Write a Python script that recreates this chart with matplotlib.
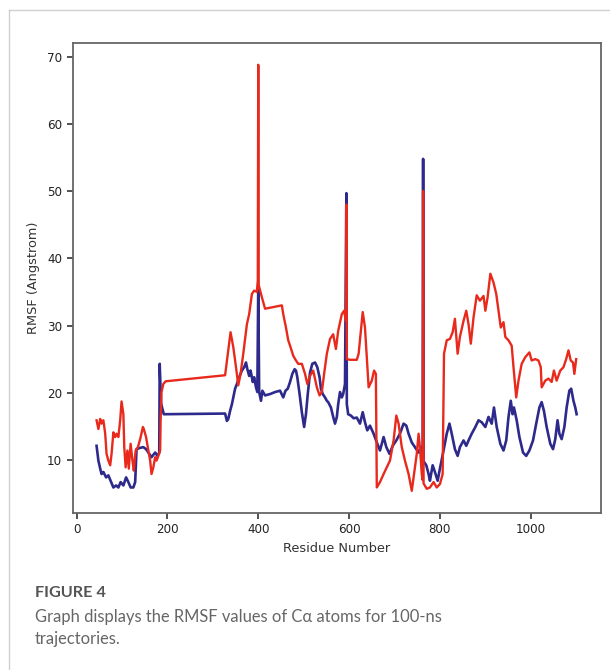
import matplotlib
matplotlib.use("Agg")
import matplotlib.pyplot as plt
from matplotlib.lines import Line2D

# RMSF per residue, red trace
red_residues = [44, 48, 52, 55, 59, 63, 66, 70, 74, 77, 81, 85, 88, 92, 96, 99, 103, 105, 108, 112,
                115, 119, 123, 126, 130, 135, 140, 146, 148, 153, 158, 162, 165, 169, 173, 176, 180, 184,
                185, 187, 191, 196, 327, 339, 345, 351, 356, 361, 367, 375, 380, 386, 391, 397, 399, 400,
                401, 408, 415, 452, 455, 461, 466, 471, 477, 483, 488, 496, 503, 508, 514, 521, 529, 535,
                540, 545, 551, 558, 565, 571, 576, 584, 589, 593, 594, 595, 602, 617, 621, 630, 635, 643,
                650, 655, 659, 661, 668, 676, 683, 690, 698, 704, 709, 716, 723, 731, 738, 743, 749, 753,
                756, 760, 762, 763, 764, 771, 778, 786, 793, 800, 806, 809, 815, 822, 828, 833, 839, 844,
                852, 858, 863, 868, 874, 881, 888, 896, 900, 905, 911, 918, 924, 929, 934, 940, 944, 951,
                958, 962, 968, 973, 980, 988, 997, 1002, 1010, 1017, 1022, 1024, 1032, 1039, 1046, 1051,
                1057, 1065, 1072, 1078, 1083, 1088, 1093, 1096, 1100]
red_rmsf = [15.9, 14.6, 16.1, 15.4, 15.9, 13.9, 10.9, 9.9, 9.2, 10.9, 14.1, 13.4, 13.9, 13.4, 15.9, 18.7,
            16.8, 11.9, 8.9, 11.4, 8.7, 12.4, 9.9, 8.4, 11.4, 11.9, 13.1, 14.9, 14.6, 13.4, 11.4, 9.9, 7.9,
            8.9, 10.4, 9.9, 10.6, 11.4, 15.9, 20.1, 21.3, 21.7, 22.6, 29.0, 26.8, 23.8, 21.1, 22.8, 25.8,
            30.2, 31.7, 34.7, 35.2, 35.0, 36.7, 68.8, 36.0, 34.2, 32.5, 33.0, 31.7, 29.7, 27.8, 26.8, 25.5,
            24.8, 24.3, 24.3, 22.8, 21.3, 22.5, 23.3, 20.8, 19.6, 20.1, 22.8, 25.8, 28.0, 28.7, 26.5, 29.2,
            31.7, 32.2, 30.7, 48.0, 25.0, 24.9, 24.9, 25.8, 32.0, 29.7, 20.8, 21.8, 23.3, 22.8, 5.9, 6.7,
            7.9, 8.9, 9.9, 12.9, 16.6, 15.4, 11.9, 9.9, 7.9, 5.4, 7.9, 10.9, 13.9, 11.9, 7.9, 7.0, 50.0,
            6.5, 5.7, 5.9, 6.7, 5.9, 6.4, 7.9, 25.8, 27.8, 28.0, 29.0, 31.0, 25.8, 28.3, 30.7, 32.2, 30.2,
            27.3, 31.2, 34.5, 33.7, 34.4, 32.2, 34.2, 37.7, 36.4, 34.7, 32.2, 29.7, 30.5, 28.3, 27.8, 27.0,
            23.8, 19.3, 21.8, 24.3, 25.3, 26.0, 24.8, 25.0, 24.8, 23.8, 20.8, 21.8, 22.1, 21.6, 23.3, 21.8,
            23.3, 23.8, 25.0, 26.3, 24.8, 24.5, 22.8, 25.0]

# RMSF per residue, blue trace
blue_residues = [44, 48, 52, 55, 59, 65, 70, 75, 81, 87, 92, 97, 103, 109, 114, 119, 125, 129, 132, 140,
                 147, 153, 158, 165, 173, 178, 182, 183, 186, 192, 327, 331, 334, 338, 342, 345, 349, 353,
                 358, 364, 369, 373, 376, 380, 383, 388, 391, 395, 398, 400, 402, 406, 409, 415, 426, 437,
                 448, 455, 460, 465, 470, 475, 480, 483, 486, 491, 496, 501, 505, 509, 514, 519, 525, 530,
                 535, 538, 542, 547, 551, 554, 560, 565, 569, 573, 576, 580, 584, 587, 591, 594, 595, 598,
                 604, 610, 617, 624, 630, 635, 640, 646, 654, 661, 668, 676, 682, 689, 696, 704, 712, 720,
                 726, 731, 738, 745, 753, 758, 762, 763, 764, 770, 775, 778, 784, 789, 795, 800, 808, 815,
                 821, 826, 833, 839, 844, 852, 858, 863, 870, 878, 885, 892, 900, 907, 914, 919, 925, 933,
                 940, 946, 951, 956, 960, 963, 969, 975, 983, 990, 997, 1005, 1012, 1019, 1024, 1029, 1035,
                 1043, 1049, 1054, 1059, 1063, 1068, 1074, 1079, 1085, 1089, 1094, 1098, 1101]
blue_rmsf = [12.1, 9.9, 8.7, 7.9, 8.2, 7.4, 7.7, 6.9, 5.9, 6.2, 5.9, 6.7, 6.2, 7.4, 6.7, 5.9, 5.9, 6.7,
             11.6, 11.8, 11.9, 11.6, 11.1, 10.4, 11.1, 10.6, 11.1, 24.3, 18.4, 16.8, 16.9, 15.8, 16.1, 17.3,
             18.3, 19.3, 20.6, 21.3, 22.3, 23.3, 23.8, 24.5, 23.5, 22.5, 23.3, 21.6, 22.3, 20.8, 20.1, 36.0,
             20.1, 18.8, 20.3, 19.6, 19.8, 20.1, 20.3, 19.3, 20.3, 20.6, 21.6, 22.8, 23.5, 23.3, 22.3, 19.8,
             17.1, 14.9, 16.8, 19.8, 23.0, 24.3, 24.5, 23.8, 22.3, 20.6, 19.8, 19.3, 18.8, 18.6, 17.8, 16.4,
             15.4, 16.4, 18.3, 20.1, 19.3, 19.8, 21.3, 49.7, 18.3, 16.8, 16.6, 16.2, 16.3, 15.4, 17.1, 15.6,
             14.4, 15.1, 13.9, 12.6, 11.4, 13.4, 11.9, 10.9, 12.1, 12.9, 13.9, 15.4, 15.1, 13.9, 12.6, 11.9,
             11.1, 11.9, 10.6, 54.8, 9.8, 9.2, 7.9, 6.9, 9.2, 8.2, 6.9, 8.7, 11.4, 13.9, 15.4, 13.9, 11.6,
             10.6, 11.9, 12.9, 12.1, 12.9, 13.9, 14.9, 15.9, 15.6, 14.9, 16.4, 15.4, 17.8, 14.9, 12.4, 11.4,
             12.9, 16.4, 18.8, 16.8, 17.8, 15.9, 13.4, 11.1, 10.6, 11.4, 12.9, 15.4, 17.8, 18.6, 17.3, 14.9,
             12.4, 11.6, 13.1, 15.9, 13.9, 13.1, 14.9, 17.8, 20.3, 20.6, 18.8, 17.8, 16.8]

x_ticks = [0, 200, 400, 600, 800, 1000]
y_ticks = [10, 20, 30, 40, 50, 60, 70]

W, H = 610, 670
fig = plt.figure(figsize=(W / 100, H / 100), dpi=100)
fig.patch.set_facecolor("white")

ax = fig.add_axes([72.5 / W, 1 - 513 / H, (600.7 - 72.5) / W, (513 - 43.3) / H])
ax.plot(blue_residues, blue_rmsf, color="#2d2a8c", lw=1.9, solid_joinstyle="round")
ax.plot(red_residues, red_rmsf, color="#e8291c", lw=1.7, solid_joinstyle="round")

ax.set_xlim(-9, 1154)
ax.set_ylim(2.1, 72)
ax.set_xticks(x_ticks)
ax.set_yticks(y_ticks)
ax.tick_params(labelsize=8.6, colors="#222222", length=4, width=1.1)
for sp in ax.spines.values():
    sp.set_color("#666666")
    sp.set_linewidth(1.3)
ax.set_xlabel("Residue Number", fontsize=9.3, color="#333333", labelpad=4)
ax.set_ylabel("RMSF (Angstrom)", fontsize=9.3, color="#333333", labelpad=5)

# caption underneath
cap_font = ["Lato", "DejaVu Sans"]
fig.text(35 / W, 1 - 597 / H, "FIGURE 4", family=cap_font, weight="bold",
         fontsize=11.7, color="#555555", va="baseline")
fig.text(35 / W, 1 - 622 / H, "Graph displays the RMSF values of C\u03b1 atoms for 100-ns",
         family=cap_font, fontsize=11.9, color="#666666", va="baseline")
fig.text(35 / W, 1 - 644 / H, "trajectories.", family=cap_font,
         fontsize=11.9, color="#666666", va="baseline")

# thin panel border
fig.add_artist(Line2D([8.5 / W, 8.5 / W], [0, 1 - 10 / H], color="#d0d0d0", lw=1))
fig.add_artist(Line2D([8.5 / W, 1], [1 - 10 / H, 1 - 10 / H], color="#d0d0d0", lw=1))

fig.savefig("out.png", dpi=100, facecolor="white")
